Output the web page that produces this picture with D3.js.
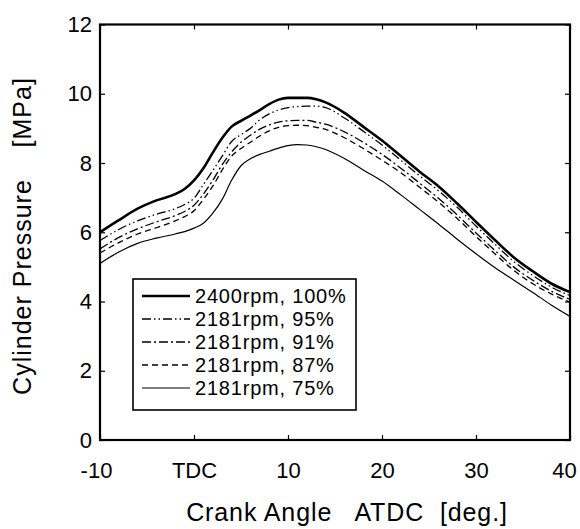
<!DOCTYPE html>
<html>
<head>
<meta charset="utf-8">
<script src="https://cdn.jsdelivr.net/npm/d3@7"></script>
<style>
    body { margin: 0; background: #fff; }
    svg { display: block; font-family: "Liberation Sans", Arial, Helvetica, sans-serif; }
    .ylab, .xlab { white-space: pre; }
</style>
</head>
<body>
<svg id="draw" width="580" height="529"></svg>
<script>
// crank angle (deg ATDC) and cylinder pressure (MPa)
let angles = [-10, -8, -6, -4, -2, -1, 0, 1, 2, 3, 4, 5, 6, 7, 8, 9, 10, 11, 12, 13, 14, 16, 18, 20, 22, 24, 26, 28, 30, 32, 34, 36, 38, 40];
let p100 = [6.0, 6.35, 6.68, 6.92, 7.1, 7.25, 7.5, 7.85, 8.3, 8.72, 9.05, 9.22, 9.37, 9.53, 9.7, 9.83, 9.88, 9.88, 9.88, 9.84, 9.75, 9.45, 9.05, 8.65, 8.2, 7.75, 7.33, 6.83, 6.3, 5.78, 5.28, 4.88, 4.52, 4.27];
let p95 = [5.76, 6.08, 6.33, 6.52, 6.68, 6.8, 6.98, 7.38, 7.78, 8.2, 8.62, 8.82, 9.0, 9.25, 9.42, 9.53, 9.6, 9.63, 9.64, 9.64, 9.6, 9.3, 8.92, 8.52, 8.08, 7.63, 7.2, 6.72, 6.18, 5.66, 5.16, 4.76, 4.42, 4.17];
let p91 = [5.52, 5.85, 6.1, 6.3, 6.48, 6.6, 6.78, 7.1, 7.5, 7.95, 8.32, 8.6, 8.8, 8.98, 9.1, 9.18, 9.22, 9.23, 9.23, 9.18, 9.12, 8.9, 8.6, 8.25, 7.85, 7.42, 6.98, 6.5, 5.98, 5.48, 5.0, 4.62, 4.3, 4.06];
let p87 = [5.4, 5.7, 5.95, 6.13, 6.33, 6.45, 6.62, 6.95, 7.33, 7.8, 8.2, 8.42, 8.6, 8.78, 8.93, 9.03, 9.08, 9.09, 9.08, 9.03, 8.97, 8.73, 8.42, 8.08, 7.72, 7.3, 6.87, 6.4, 5.88, 5.38, 4.9, 4.52, 4.22, 3.98];
let p75 = [5.1, 5.43, 5.68, 5.83, 5.95, 6.02, 6.12, 6.26, 6.55, 6.95, 7.5, 7.92, 8.12, 8.25, 8.34, 8.43, 8.5, 8.53, 8.52, 8.47, 8.39, 8.13, 7.8, 7.48, 7.08, 6.66, 6.24, 5.8, 5.38, 4.98, 4.62, 4.27, 3.9, 3.57];

let seriesNames = ["2400rpm, 100%", "2181rpm, 95%", "2181rpm, 91%", "2181rpm, 87%", "2181rpm, 75%"];
let xTicks = [-10, 0, 10, 20, 30, 40];
let xTickLabels = ["-10", "TDC", "10", "20", "30", "40"];
let yTicks = [0, 2, 4, 6, 8, 10, 12];

let lineStyles = [
    { width: 2.6, dash: null },
    { width: 1.3, dash: "9,3,1.5,3,1.5,3" },
    { width: 1.3, dash: "9,3,2,3" },
    { width: 1.3, dash: "6,4" },
    { width: 1.2, dash: null }
];

let svg, scales;

function draw() {
    svg = d3.select("#draw");
    let left = 100, right = 570, top = 24.5, bottom = 440;
    scales = {
        x: d3.scaleLinear().domain([-10, 40]).range([left, right]),
        y: d3.scaleLinear().domain([0, 12]).range([bottom, top])
    };

    let series = [p100, p95, p91, p87, p75].map((vals, i) => ({
        name: seriesNames[i],
        style: lineStyles[i],
        points: angles.map((a, j) => [a, vals[j]])
    }));

    let line = d3.line()
        .x(d => scales.x(d[0]))
        .y(d => scales.y(d[1]))
        .curve(d3.curveMonotoneX);

    svg.append("g").selectAll("path")
        .data(series)
        .enter()
        .append("path")
        .attr("d", s => line(s.points))
        .attr("fill", "none")
        .attr("stroke", "#000")
        .attr("stroke-width", s => s.style.width)
        .attr("stroke-dasharray", s => s.style.dash)
        .attr("stroke-linejoin", "round");

    // axes, ticks pointing inward
    let bottomAxis = svg.append("g")
        .attr("transform", "translate(0," + bottom + ")")
        .call(d3.axisBottom(scales.x).tickValues(xTicks).tickSize(-5).tickPadding(22)
            .tickFormat((d, i) => xTickLabels[i]));
    svg.append("g")
        .attr("transform", "translate(" + left + ",0)")
        .call(d3.axisLeft(scales.y).tickValues(yTicks).tickSize(-5).tickPadding(8));
    svg.append("g")
        .attr("transform", "translate(0," + top + ")")
        .call(d3.axisTop(scales.x).tickValues(xTicks).tickSize(-5).tickFormat(""));
    svg.append("g")
        .attr("transform", "translate(" + right + ",0)")
        .call(d3.axisRight(scales.y).tickValues(yTicks).tickSize(-5).tickFormat(""));

    svg.selectAll(".domain").remove();
    svg.selectAll(".tick line").attr("stroke", "#000").attr("stroke-width", 1.2);
    svg.selectAll(".tick text")
        .attr("fill", "#000")
        .style("font-size", "22px")
        .style("font-family", "'Liberation Sans', Arial, sans-serif");
    // keep the end labels inside the picture
    bottomAxis.selectAll(".tick text")
        .attr("dx", (d, i) => i === xTicks.length - 1 ? -6 : (i === 0 ? -4 : 0));

    svg.append("rect")
        .attr("x", left)
        .attr("y", top)
        .attr("width", right - left)
        .attr("height", bottom - top)
        .attr("fill", "none")
        .attr("stroke", "#000")
        .attr("stroke-width", 2.2);

    // axis titles
    svg.append("text")
        .attr("class", "xlab")
        .attr("x", 347)
        .attr("y", 521)
        .attr("text-anchor", "middle")
        .style("font-size", "25px")
        .style("letter-spacing", "0.9px")
        .text("Crank Angle   ATDC  [deg.]");
    svg.append("text")
        .attr("class", "ylab")
        .attr("transform", "translate(31,236) rotate(-90)")
        .attr("text-anchor", "middle")
        .style("font-size", "25px")
        .style("letter-spacing", "1px")
        .text("Cylinder Pressure    [MPa]");

    // legend
    let legend = svg.append("g");
    legend.append("rect")
        .attr("x", 133)
        .attr("y", 279)
        .attr("width", 223)
        .attr("height", 131)
        .attr("fill", "#fff")
        .attr("stroke", "#000")
        .attr("stroke-width", 1.6);
    let rows = legend.selectAll("g.row")
        .data(series)
        .enter()
        .append("g")
        .attr("class", "row")
        .attr("transform", (s, i) => "translate(0," + (296 + i * 23) + ")");
    rows.append("line")
        .attr("x1", 142)
        .attr("x2", 190)
        .attr("stroke", "#000")
        .attr("stroke-width", s => s.style.width)
        .attr("stroke-dasharray", s => s.style.dash);
    rows.append("text")
        .attr("x", 195)
        .attr("dy", "0.36em")
        .style("font-size", "20px")
        .style("letter-spacing", "0.8px")
        .text(s => s.name);
}

window.onload = draw;
</script>
</body>
</html>
